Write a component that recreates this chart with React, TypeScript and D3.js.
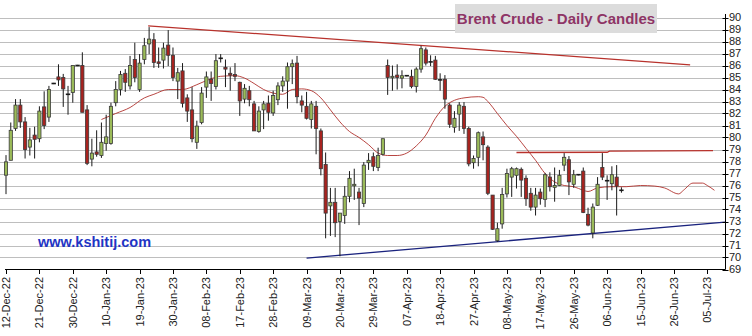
import React from "react";
import * as d3 from "d3";

// ---------- DATA ----------
const startDate = new Date(2022, 11, 12);
const endDate = new Date(2023, 6, 20);

const opens = [76.86,78.1,80.75,82.7,81.3,79.2,80.2,79.9,82.55,81.7,84.5,85.05,85.0,83.6,83.75,86.0,86.0,82.3,78.2,78.8,78.5,79.5,79.5,82.9,84.0,85.35,84.3,86.5,84.0,86.5,87.8,88.15,86.3,86.45,87.7,86.85,84.7,85.55,83.3,82.3,79.6,81.25,84.2,84.85,84.25,86.6,85.85,85.35,85.25,84.6,83.2,83.9,82.8,80.5,82.3,82.85,82.05,83.15,84.3,84.7,85.9,86.2,83.05,82.6,81.5,82.6,80.55,77.75,74.3,74.6,73.0,73.5,75.1,76.0,75.45,74.5,77.9,78.4,77.5,78.6,86.0,85.0,85.2,84.95,85.15,85.1,84.25,85.7,87.3,86.3,86.45,84.8,84.85,82.7,80.85,81.95,82.6,80.75,77.9,78.35,80.05,79.2,75.2,71.4,72.8,75.3,76.7,76.85,77.35,76.6,75.35,74.2,75.45,74.85,76.7,75.85,76.0,77.7,78.15,76.1,76.9,77.2,73.6,72.05,74.35,77.5,76.4,76.15,76.7,75.6];
const highs = [78.53,81.25,83.2,83.2,81.7,80.8,80.9,82.6,83.85,84.3,84.55,86.1,85.3,84.3,86.0,86.05,87.1,82.7,79.9,80.6,81.25,81.9,82.9,84.7,85.55,85.7,86.8,87.9,86.95,88.3,89.2,88.7,87.5,87.9,88.95,87.5,85.8,86.2,83.6,84.2,81.4,84.2,85.5,85.5,86.95,86.95,86.5,85.85,86.2,84.65,84.45,84.3,83.05,82.6,83.05,83.5,83.9,84.6,85.1,86.25,86.5,86.8,83.5,83.8,83.05,83.05,80.75,78.75,75.8,75.8,73.7,75.95,77.2,77.4,75.8,77.95,78.7,78.75,79.15,79.9,86.5,86.0,86.1,85.6,85.2,85.65,85.85,87.65,87.5,86.85,86.8,85.35,85.2,82.85,82.2,82.95,82.95,80.9,78.5,80.5,80.5,79.35,75.2,72.9,75.8,77.4,77.55,77.5,77.5,76.85,75.8,75.8,75.75,77.05,77.1,77.5,77.3,78.7,78.45,77.3,76.95,77.5,74.15,74.5,76.7,78.7,76.85,77.6,77.7,75.85];
const lows = [75.28,78.1,80.55,80.8,78.25,78.5,78.25,79.6,80.7,81.3,84.45,84.3,82.55,81.9,82.9,85.95,82.1,77.7,77.6,78.4,78.3,78.9,79.4,82.6,83.5,83.8,84.0,84.6,83.8,86.1,86.95,85.8,85.8,85.75,85.95,84.7,83.2,82.5,81.3,79.6,79.05,81.1,83.3,83.05,84.0,86.25,84.2,83.9,84.7,81.8,82.85,82.6,80.55,80.4,80.7,81.4,81.8,82.7,83.8,82.4,84.45,82.85,82.1,81.5,80.75,78.6,76.85,71.6,71.8,71.7,70.1,72.8,74.6,74.8,72.7,74.2,77.3,77.2,77.2,78.5,83.55,83.9,84.0,84.1,85.1,84.1,83.75,85.4,86.0,85.95,84.8,83.9,82.4,80.8,80.4,80.55,80.3,77.6,77.4,77.6,78.1,75.2,72.3,71.3,72.4,75.0,75.05,75.75,75.05,74.3,73.9,73.5,74.4,74.2,75.5,74.65,75.95,77.2,75.2,75.8,76.85,73.7,72.6,71.6,74.3,76.45,74.8,75.6,73.5,75.4];
const closes = [77.97,80.6,82.7,81.3,79.0,79.8,79.85,82.2,81.0,84.0,84.5,84.8,84.05,83.55,86.0,86.0,82.1,77.85,78.7,78.6,79.6,80.05,82.6,84.0,85.25,84.6,86.0,85.0,86.2,87.65,88.2,86.25,86.2,87.45,86.85,85.0,85.4,82.85,82.2,79.9,80.95,83.7,85.05,84.5,86.4,86.6,85.7,85.2,85.1,83.05,84.1,83.15,80.55,82.2,82.8,82.1,83.5,84.3,84.7,85.9,86.15,83.4,82.7,81.6,82.8,80.75,77.4,73.7,74.6,72.9,73.7,75.1,76.6,76.1,74.95,77.7,78.1,77.6,78.5,79.9,85.0,85.1,85.0,85.15,85.15,84.25,85.7,87.4,86.2,86.3,84.85,84.8,83.2,81.1,81.6,82.7,80.75,77.8,78.25,80.4,79.4,75.35,72.35,72.4,75.25,77.0,77.4,77.4,76.45,74.9,74.2,75.2,74.9,76.9,75.9,76.0,76.85,78.35,76.3,76.9,76.9,73.75,72.7,74.2,76.1,76.7,76.4,76.9,75.95,75.6];

// moving average (trading-day index, value)
const maIndex = [20,23,26,29,31,34,37,40,43,45,48,50,52,54,56,58,60,62,64,66,68,70,72,74,76,78,80,82,84,86,88,90,92,94,96,99,100,101,103,105,107,109,111,113,115,117,119,121,122,124,127,130,133,136,138,141,142,144,146,147,148.5];
const maValue = [81.5,82.0,82.5,83.3,83.6,84.0,84.0,84.4,84.9,85.1,85.15,84.95,84.5,84.0,83.7,83.6,84.0,84.05,83.9,83.3,82.3,81.3,80.5,80.0,79.4,78.7,78.5,78.5,78.7,79.3,80.2,81.6,82.6,83.1,83.3,83.4,83.35,83.0,82.0,81.0,80.1,79.1,78.1,77.0,76.3,76.0,75.9,75.6,75.5,75.8,75.9,75.9,76.0,75.95,75.8,75.3,75.6,76.2,76.2,76.0,75.6];

// trend lines (trading-day index, value)
const upperTrendIndex = [29.8, 143.4];
const upperTrendValue = [89.31, 86.06];
const lowerTrendIndex = [63.0, 150.7];
const lowerTrendValue = [69.95, 72.95];
const resistIndex = [107, 126, 126.5, 148.2];
const resistValue = [78.75, 78.77, 78.87, 78.9];

const yTicks = d3.range(69, 91);
const xTickLabels = ["12-Dec-22","21-Dec-22","30-Dec-22","10-Jan-23","19-Jan-23","30-Jan-23","08-Feb-23","17-Feb-23","28-Feb-23","09-Mar-23","20-Mar-23","29-Mar-23","07-Apr-23","18-Apr-23","27-Apr-23","08-May-23","17-May-23","26-May-23","06-Jun-23","15-Jun-23","26-Jun-23","05-Jul-23"];

const titleText = "Brent Crude - Daily Candles";
const watermark = "www.kshitij.com";

// ---------- CHART ----------
const W = 752, H = 336;

export default function App() {
  const tradingDays = d3.timeDay.range(startDate, endDate).filter(d => d.getDay() !== 0 && d.getDay() !== 6);
  const parse = d3.timeParse("%d-%b-%y");
  const dayIndex = (d: Date) => tradingDays.findIndex(t => +t === +d);

  const x = d3.scaleLinear().domain([0, 147]).range([6, 707.3]);
  const y = d3.scaleLinear().domain([69, 90]).range([269.5, 17.5]);
  const axisX = 725.5;

  const maLine = d3.line<number>().x((_, i) => x(maIndex[i])).y(v => y(v)).curve(d3.curveMonotoneX);
  const pl = (xi: number[], yv: number[]) => d3.line<number>().x((_, i) => x(xi[i])).y(v => y(v))(yv) || "";

  const green = "#9BBB59";
  const red = "#A8231F";
  const bodyW = 3.2;

  return (
    <svg width={W} height={H} style={{ position: "absolute", left: 0, top: 0, background: "#fff" }} fontFamily="Liberation Sans, Arial, sans-serif">
      <rect x={0} y={0} width={W} height={H} fill="#fff" />
      {/* grid */}
      {yTicks.filter(v => v > 69).map(v => (
        <line key={v} x1={0} x2={axisX} y1={Math.round(y(v)) + 0.5} y2={Math.round(y(v)) + 0.5} stroke="#BEBEBE" strokeWidth={1} />
      ))}
      {/* title */}
      <rect x={455} y={4} width={202} height={29} fill="#DCDCDC" />
      <text x={556} y={24} textAnchor="middle" fontSize={15} fontWeight="bold" fill="#8E3566">{titleText}</text>
      {/* watermark */}
      <text x={38} y={247} fontSize={14.5} fontWeight="bold" fill="#1F35C4">{watermark}</text>
      {/* trend lines */}
      <path d={pl(upperTrendIndex, upperTrendValue)} stroke="#B8322C" strokeWidth={1.3} fill="none" />
      <path d={pl(lowerTrendIndex, lowerTrendValue)} stroke="#1A237E" strokeWidth={1.3} fill="none" />
      <path d={pl(resistIndex, resistValue)} stroke="#B8322C" strokeWidth={1.3} fill="none" />
      {/* moving average */}
      <path d={maLine(maValue) || ""} stroke="#B0312C" strokeWidth={0.9} fill="none" />
      {/* candles */}
      {opens.map((o, i) => {
        const c = closes[i], h = highs[i], l = lows[i];
        const cx = x(i);
        const top = y(Math.max(o, c)), bot = y(Math.min(o, c));
        const isDash = Math.abs(o - c) < 0.06;
        const up = c >= o;
        return (
          <g key={i}>
            <line x1={cx} x2={cx} y1={y(h)} y2={y(l)} stroke="#1a1a1a" strokeWidth={1} />
            {isDash ? (
              <line x1={cx - 2.2} x2={cx + 2.2} y1={top} y2={top} stroke="#1a1a1a" strokeWidth={1.6} />
            ) : (
              <rect x={cx - bodyW / 2} y={top} width={bodyW} height={Math.max(bot - top, 1.5)} fill={up ? green : red} stroke="#3a3a3a" strokeWidth={0.8} />
            )}
          </g>
        );
      })}
      {/* y axis */}
      <line x1={axisX} x2={axisX} y1={14} y2={269.5} stroke="#000" />
      {yTicks.map(v => (
        <g key={v}>
          <line x1={axisX - 3} x2={axisX + 3} y1={Math.round(y(v)) + 0.5} y2={Math.round(y(v)) + 0.5} stroke="#000" />
          <text x={729} y={y(v)} dy="0.35em" fontSize={11} fill="#222">{v}</text>
        </g>
      ))}
      {/* x axis */}
      <line x1={5} x2={axisX} y1={269.5} y2={269.5} stroke="#000" />
      {xTickLabels.map(lbl => {
        const idx = dayIndex(parse(lbl) as Date);
        const tx = Math.round(x(idx)) + 0.5;
        return (
          <g key={lbl}>
            <line x1={tx} x2={tx} y1={269.5} y2={274} stroke="#000" />
            <text transform={`translate(${tx},277) rotate(-90)`} textAnchor="end" dy="0.35em" fontSize={11} fill="#222">{lbl}</text>
          </g>
        );
      })}
    </svg>
  );
}
